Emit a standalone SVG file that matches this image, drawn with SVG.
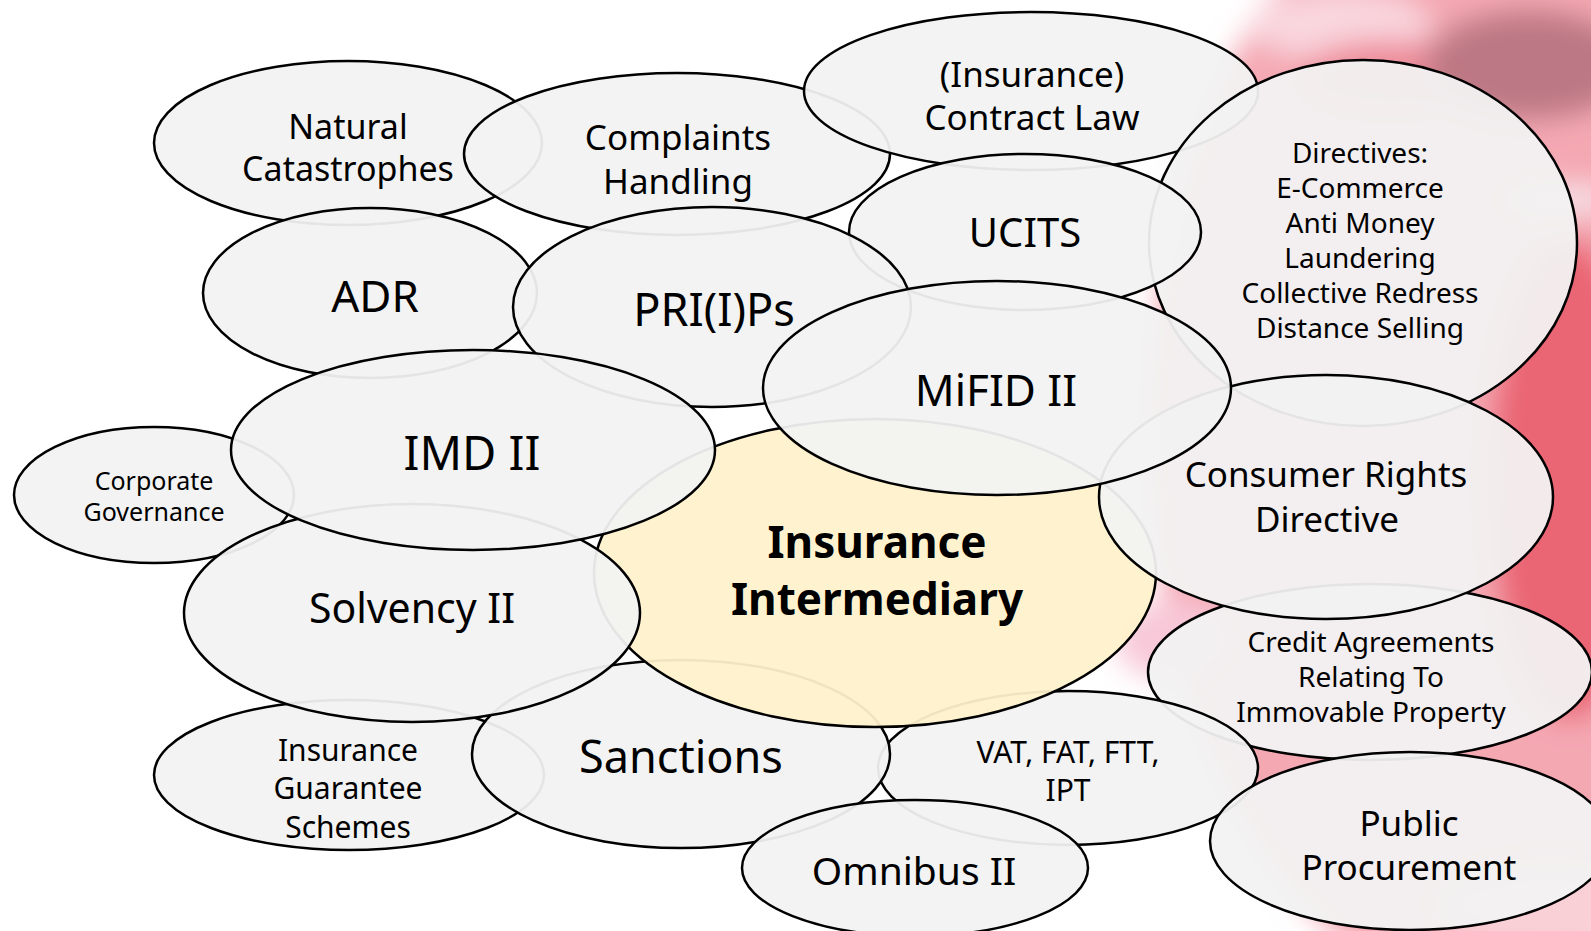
<svg xmlns="http://www.w3.org/2000/svg" width="1591" height="931" viewBox="0 0 1591 931">
<defs>
<filter id="blur" x="-20%" y="-20%" width="140%" height="140%"><feGaussianBlur stdDeviation="14"/></filter>
<style>
.n{fill:#f2f2f2;fill-opacity:0.94;stroke:#000;stroke-width:2.5}
.c{fill:#fff2cc;fill-opacity:0.94;stroke:#000;stroke-width:2.5}
text{font-family:"Noto Sans","Open Sans",sans-serif;fill:#000;text-anchor:middle}
.b{font-weight:bold}
</style>
</defs>
<rect width="1591" height="931" fill="#ffffff"/>
<g id="background" filter="url(#blur)">
<ellipse cx="1480" cy="430" rx="330" ry="560" fill="#f4a8b2"/>
<ellipse cx="1340" cy="25" rx="90" ry="35" fill="#f9d6de"/>
<ellipse cx="1390" cy="75" rx="90" ry="35" fill="#ee8c9a"/>
<ellipse cx="1530" cy="65" rx="105" ry="55" fill="#bc7884"/>
<ellipse cx="1570" cy="480" rx="80" ry="240" fill="#ea6675"/>
<ellipse cx="1560" cy="200" rx="60" ry="16" fill="#f8e0e6"/>
<ellipse cx="1550" cy="905" rx="120" ry="50" fill="#f9d0d6"/>
<ellipse cx="1175" cy="640" rx="60" ry="40" fill="#f8c8d8"/>
</g>
<g id="nodes">
<g id="natural-catastrophes"><ellipse class="n" cx="348" cy="143" rx="194" ry="82"/><text x="348" y="139" font-size="34">Natural</text><text x="348" y="181" font-size="34">Catastrophes</text></g>
<g id="complaints-handling"><ellipse class="n" cx="677" cy="154" rx="213" ry="81"/><text x="678" y="150" font-size="35">Complaints</text><text x="678" y="194" font-size="35">Handling</text></g>
<g id="contract-law"><ellipse class="n" cx="1031" cy="91" rx="227" ry="79"/><text x="1032" y="87" font-size="35">(Insurance)</text><text x="1032" y="130" font-size="35">Contract Law</text></g>
<g id="directives"><ellipse class="n" cx="1363" cy="243" rx="214" ry="183"/><text font-size="28"><tspan x="1360" y="163">Directives:</tspan><tspan x="1360" y="198">E-Commerce</tspan><tspan x="1360" y="233">Anti Money</tspan><tspan x="1360" y="268">Laundering</tspan><tspan x="1360" y="303">Collective Redress</tspan><tspan x="1360" y="338">Distance Selling</tspan></text></g>
<g id="adr"><ellipse class="n" cx="370" cy="293" rx="167" ry="85"/><text x="375" y="312" font-size="44">ADR</text></g>
<g id="ucits"><ellipse class="n" cx="1025" cy="232" rx="176" ry="78"/><text x="1025" y="247" font-size="40">UCITS</text></g>
<g id="corporate-governance"><ellipse class="n" cx="154" cy="495" rx="140" ry="68"/><text font-size="25"><tspan x="154" y="490">Corporate</tspan><tspan x="154" y="521">Governance</tspan></text></g>
<g id="insurance-guarantee-schemes"><ellipse class="n" cx="349" cy="775" rx="195" ry="75"/><text font-size="30"><tspan x="348" y="761">Insurance</tspan><tspan x="348" y="799">Guarantee</tspan><tspan x="348" y="838">Schemes</tspan></text></g>
<g id="credit-agreements"><ellipse class="n" cx="1370" cy="672" rx="222" ry="88"/><text font-size="28"><tspan x="1371" y="652">Credit Agreements</tspan><tspan x="1371" y="687">Relating To</tspan><tspan x="1371" y="722">Immovable Property</tspan></text></g>
<g id="vat"><ellipse class="n" cx="1068" cy="768" rx="190" ry="77"/><text font-size="30"><tspan x="1068" y="763">VAT, FAT, FTT,</tspan><tspan x="1068" y="801">IPT</tspan></text></g>
<g id="sanctions"><ellipse class="n" cx="681" cy="754" rx="209" ry="94"/><text x="681" y="773" font-size="45">Sanctions</text></g>
<g id="insurance-intermediary"><ellipse class="c" cx="875" cy="573" rx="281" ry="154"/><text class="b" font-size="44"><tspan x="877" y="558">Insurance</tspan><tspan x="877" y="615">Intermediary</tspan></text></g>
<g id="priips"><ellipse class="n" cx="712" cy="307" rx="199" ry="100"/><text x="714" y="326" font-size="45">PRI(I)Ps</text></g>
<g id="consumer-rights"><ellipse class="n" cx="1326" cy="497" rx="227" ry="122"/><text font-size="35"><tspan x="1326" y="487">Consumer Rights</tspan><tspan x="1327" y="532">Directive</tspan></text></g>
<g id="mifid"><ellipse class="n" cx="997" cy="388" rx="234" ry="107"/><text x="996" y="406" font-size="44">MiFID II</text></g>
<g id="solvency"><ellipse class="n" cx="412" cy="613" rx="228" ry="109"/><text x="412" y="623" font-size="41">Solvency II</text></g>
<g id="imd"><ellipse class="n" cx="473" cy="450" rx="242" ry="100"/><text x="472" y="470" font-size="47">IMD II</text></g>
<g id="omnibus"><ellipse class="n" cx="915" cy="868" rx="173" ry="68"/><text x="914" y="885" font-size="39">Omnibus II</text></g>
<g id="public-procurement"><ellipse class="n" cx="1410" cy="841" rx="200" ry="89"/><text font-size="35"><tspan x="1409" y="836">Public</tspan><tspan x="1409" y="880">Procurement</tspan></text></g>
</g>
<g id="connectors"/>
</svg>
